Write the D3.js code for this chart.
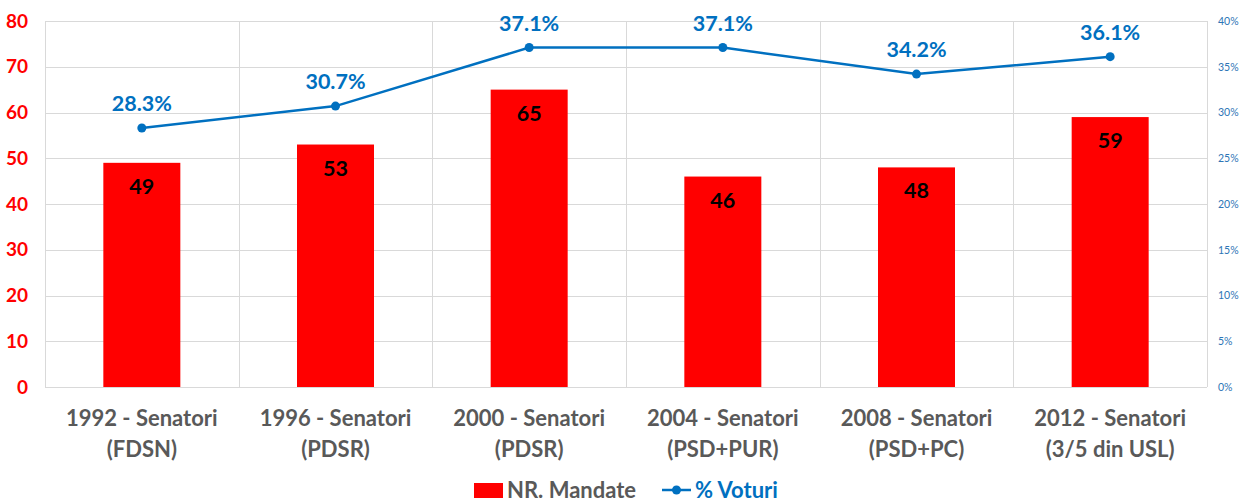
<!DOCTYPE html>
<html>
<head>
<meta charset="utf-8">
<script src="https://cdn.jsdelivr.net/npm/d3@7"></script>
<style>
  body { margin: 0; background: #fff; }
  svg { display: block; font-family: Lato, "Open Sans", sans-serif; }
</style>
</head>
<body>
<svg id="chart" width="1239" height="498"></svg>
<script>
// categories, two lines each
const categories = [
  ['1992 - Senatori', '(FDSN)'],
  ['1996 - Senatori', '(PDSR)'],
  ['2000 - Senatori', '(PDSR)'],
  ['2004 - Senatori', '(PSD+PUR)'],
  ['2008 - Senatori', '(PSD+PC)'],
  ['2012 - Senatori', '(3/5 din USL)']
];
const mandate = [49, 53, 65, 46, 48, 59];
const voturi = [28.3, 30.7, 37.1, 37.1, 34.2, 36.1];
const leftTicks = [0, 10, 20, 30, 40, 50, 60, 70, 80];
const rightTicks = [0, 5, 10, 15, 20, 25, 30, 35, 40];

const plotLeft = 45, plotRight = 1207, plotTop = 21, plotBottom = 387;
const red = '#ff0000';
const blue = '#0070c0';
const gray = '#595959';
const grid = '#d9d9d9';

const svg = d3.select('#chart');

const x = d3.scaleBand()
  .domain(categories.map((c, i) => i))
  .range([plotLeft, plotRight])
  .paddingInner(0).paddingOuter(0);
const yL = d3.scaleLinear().domain([0, 80]).range([plotBottom, plotTop]);
const yR = d3.scaleLinear().domain([0, 40]).range([plotBottom, plotTop]);

////Gridlines
svg.append('g').selectAll('line')
  .data(leftTicks)
  .enter().append('line')
  .attr('x1', plotLeft).attr('x2', plotRight)
  .attr('y1', d => Math.round(yL(d)) + 0.5).attr('y2', d => Math.round(yL(d)) + 0.5)
  .attr('stroke', grid).attr('stroke-width', 1);

// vertical separators between categories
const seps = d3.range(categories.length + 1);
svg.append('g').selectAll('line')
  .data(seps)
  .enter().append('line')
  .attr('x1', d => Math.round(plotLeft + d * x.step()) + 0.5)
  .attr('x2', d => Math.round(plotLeft + d * x.step()) + 0.5)
  .attr('y1', plotTop).attr('y2', plotBottom)
  .attr('stroke', grid).attr('stroke-width', 1);

////Bars
const barW = 77;
svg.append('g').selectAll('rect')
  .data(mandate)
  .enter().append('rect')
  .attr('x', (d, i) => x(i) + x.bandwidth() / 2 - barW / 2)
  .attr('y', d => yL(d))
  .attr('width', barW)
  .attr('height', d => yL(0) - yL(d))
  .attr('fill', red);

svg.append('g').selectAll('text')
  .data(mandate)
  .enter().append('text')
  .attr('x', (d, i) => x(i) + x.bandwidth() / 2)
  .attr('y', d => yL(d) + 31)
  .attr('text-anchor', 'middle')
  .attr('font-size', 21.5).attr('font-weight', 'bold')
  .attr('fill', '#000')
  .text(d => d);

////Line
const line = d3.line()
  .x((d, i) => x(i) + x.bandwidth() / 2)
  .y(d => yR(d));
svg.append('path')
  .datum(voturi)
  .attr('d', line)
  .attr('fill', 'none')
  .attr('stroke', blue)
  .attr('stroke-width', 2.5);

svg.append('g').selectAll('circle')
  .data(voturi)
  .enter().append('circle')
  .attr('cx', (d, i) => x(i) + x.bandwidth() / 2)
  .attr('cy', d => yR(d))
  .attr('r', 4.5)
  .attr('fill', blue);

svg.append('g').selectAll('text')
  .data(voturi)
  .enter().append('text')
  .attr('x', (d, i) => x(i) + x.bandwidth() / 2)
  .attr('y', d => yR(d) - 17)
  .attr('text-anchor', 'middle')
  .attr('font-size', 21.5).attr('font-weight', 'bold')
  .attr('fill', blue)
  .text(d => d.toFixed(1) + '%');

////Axes
const axL = svg.append('g')
  .attr('transform', `translate(${plotLeft}, 0)`)
  .call(d3.axisLeft(yL).tickValues(leftTicks).tickSize(0).tickPadding(17));
axL.select('.domain').remove();
axL.selectAll('text')
  .attr('font-family', 'Lato, sans-serif')
  .attr('font-size', 19).attr('font-weight', 'bold')
  .attr('fill', red);

const axR = svg.append('g')
  .attr('transform', `translate(${plotRight}, 0)`)
  .call(d3.axisRight(yR).tickValues(rightTicks).tickSize(0).tickPadding(11)
    .tickFormat(d => d + '%'));
axR.select('.domain').remove();
axR.selectAll('text')
  .attr('font-family', 'Lato, sans-serif')
  .attr('font-size', 10.5)
  .attr('fill', '#2e75b6');

// category labels
const cat = svg.append('g').selectAll('text')
  .data(categories)
  .enter().append('text')
  .attr('text-anchor', 'middle')
  .attr('font-size', 22).attr('font-weight', 'bold')
  .attr('fill', gray);
cat.append('tspan')
  .attr('x', (d, i) => x(i) + x.bandwidth() / 2)
  .attr('y', 426)
  .text(d => d[0]);
cat.append('tspan')
  .attr('x', (d, i) => x(i) + x.bandwidth() / 2)
  .attr('y', 457)
  .text(d => d[1]);

////Legend
const lg = svg.append('g');
lg.append('rect')
  .attr('x', 474).attr('y', 483).attr('width', 29).attr('height', 16)
  .attr('fill', red);
lg.append('text')
  .attr('x', 507).attr('y', 498)
  .attr('font-size', 22).attr('font-weight', 'bold')
  .attr('fill', gray)
  .text('NR. Mandate');
lg.append('line')
  .attr('x1', 662).attr('x2', 691).attr('y1', 490).attr('y2', 490)
  .attr('stroke', blue).attr('stroke-width', 2.5);
lg.append('circle')
  .attr('cx', 676.5).attr('cy', 490).attr('r', 4.5).attr('fill', blue);
lg.append('text')
  .attr('x', 695).attr('y', 498)
  .attr('font-size', 22).attr('font-weight', 'bold')
  .attr('fill', blue)
  .text('% Voturi');
</script>
</body>
</html>
